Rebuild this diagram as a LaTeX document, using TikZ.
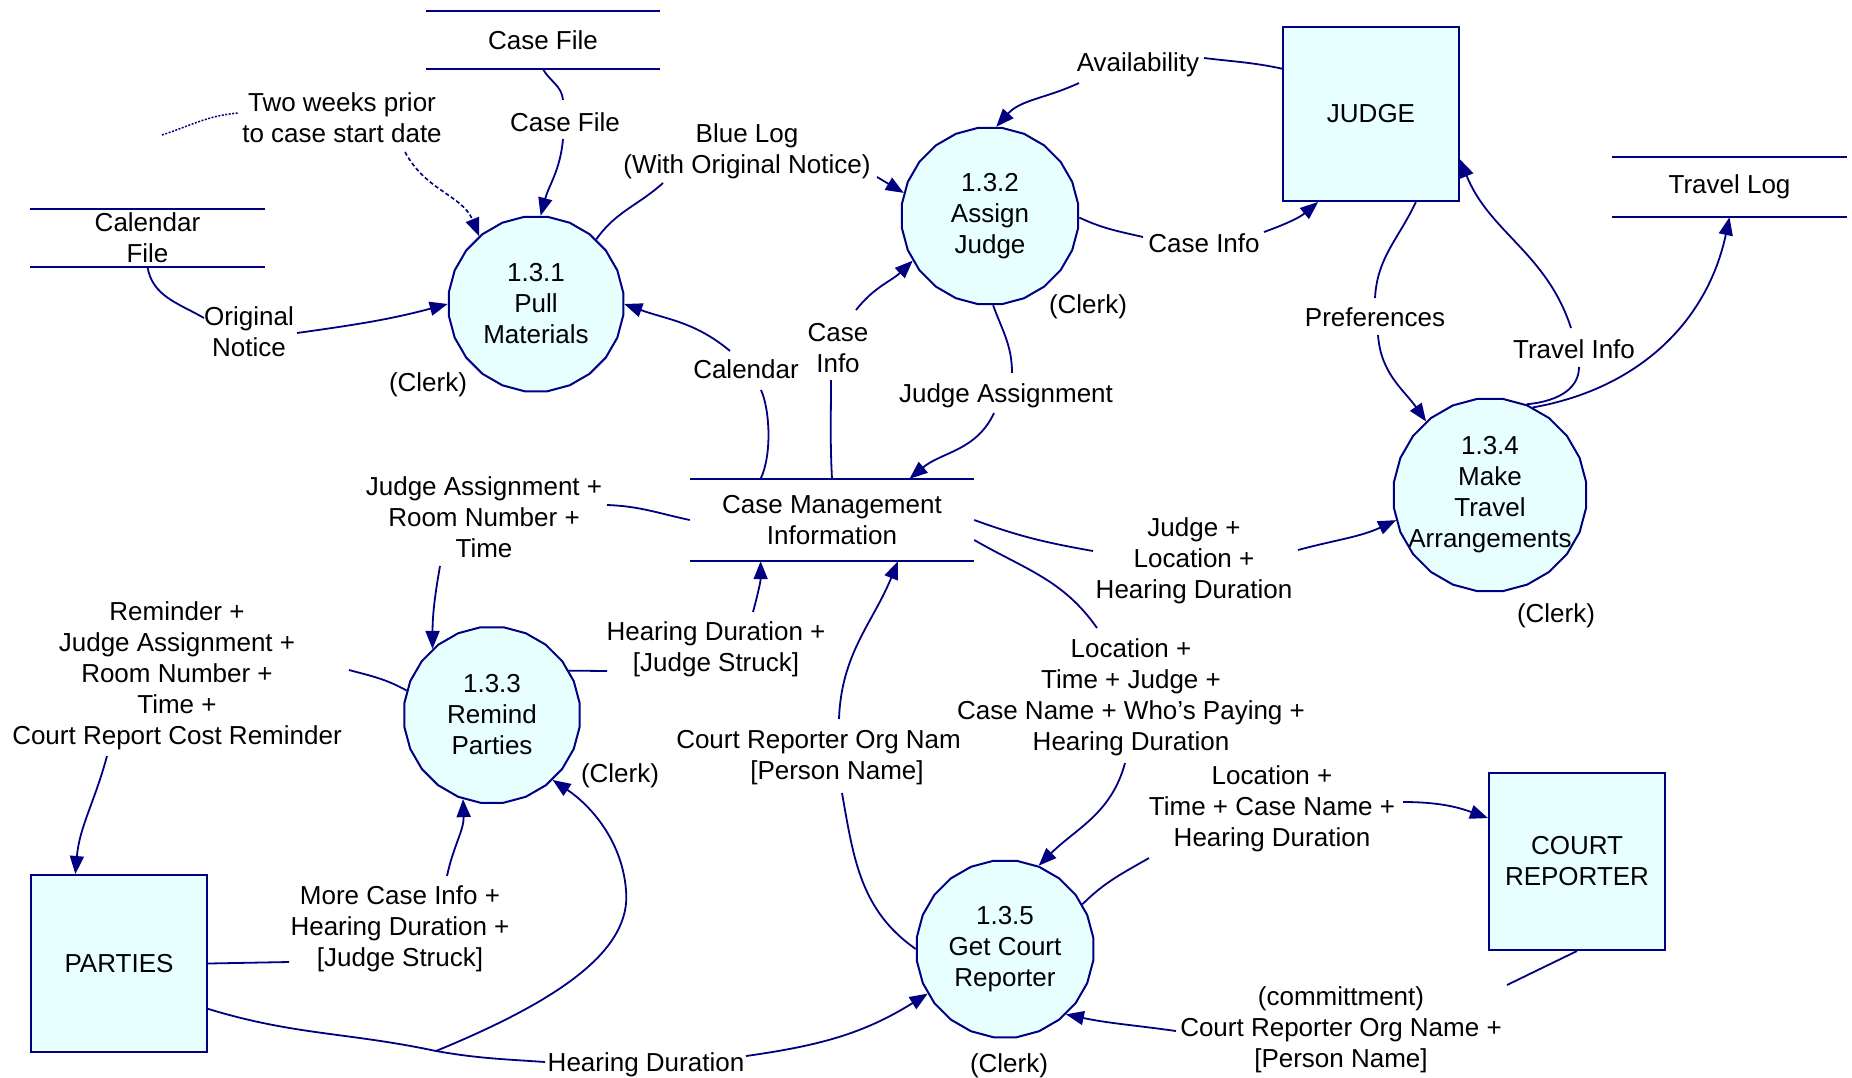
\documentclass[tikz,border=0pt]{standalone}
\usepackage{fontspec}
\setmainfont{Liberation Sans}
\usetikzlibrary{arrows.meta,shapes.geometric}
\definecolor{ln}{RGB}{0,0,128}
\definecolor{fl}{RGB}{232,255,255}
\begin{document}
\begin{tikzpicture}[x=1pt,y=-1pt,
  txt/.style={font=\fontsize{26}{31}\selectfont, align=center, inner sep=0pt, text=black},
  proc/.style={regular polygon, regular polygon sides=24, draw=ln, fill=fl, line width=2pt, inner sep=0pt, minimum size=#1},
  ext/.style={rectangle, draw=ln, fill=fl, line width=2pt, minimum width=176, minimum height=176, inner sep=0pt, txt},
  store/.style={rectangle, inner sep=0pt, txt},
  sline/.style={draw=ln, line width=2pt},
  flow/.style={draw=ln, line width=1.8pt},
  arr/.style={flow, -{Triangle[length=18pt,width=14pt]}},
]
\useasboundingbox (0,0) rectangle (1852,1077);

% ---------- stores ----------
\node[store, minimum width=234, minimum height=58] (casefile) at (543,40) {Case File};
\node[store, minimum width=235, minimum height=58] (calfile) at (147.5,238) {Calendar\\File};
\node[store, minimum width=235, minimum height=60] (travellog) at (1729.5,187) {Travel Log};
\node[store, minimum width=284, minimum height=82] (cmi) at (832,520) {Case Management\\Information};
\foreach \s in {casefile,calfile,travellog,cmi}{
  \draw[sline] (\s.north west) -- (\s.north east) (\s.south west) -- (\s.south east);
}

% ---------- external entities ----------
\node[ext, minimum height=174] (judge) at (1371,114) {JUDGE};
\node[ext, minimum height=177] (parties) at (119,963.5) {PARTIES};
\node[ext, minimum height=177] (cr) at (1577,861.5) {COURT\\REPORTER};

% ---------- processes ----------
\node[proc=176, label={[txt]center:{1.3.1\\Pull\\Materials}}] (c131) at (536,304) {};
\node[proc=178, label={[txt]center:{1.3.2\\Assign\\Judge}}] (c132) at (990,216) {};
\node[proc=177, label={[txt]center:{1.3.3\\Remind\\Parties}}] (c133) at (492,715) {};
\node[proc=194, label={[txt]center:{1.3.4\\Make\\Travel\\Arrangements}}] (c134) at (1490,495) {};
\node[proc=178, label={[txt]center:{1.3.5\\Get Court\\Reporter}}] (c135) at (1005,949) {};

% ---------- (Clerk) ----------
\node[txt] (k131) at (428,385) {(Clerk)};
\node[txt] (k132) at (1088,307) {(Clerk)};
\node[txt] (k133) at (620,776) {(Clerk)};
\node[txt] (k134) at (1556,616) {(Clerk)};
\node[txt] (k135) at (1009,1066) {(Clerk)};

% ---------- flow labels ----------
\node[txt] (lcf) at (565,122) {Case File};
\node[txt] (lon) at (249,332) {Original\\Notice};
\node[txt] (lbl) at (747,151) {Blue Log\\(With Original Notice)};
\node[txt] (lcal) at (746,369) {Calendar};
\node[txt] (lci1) at (838,348) {Case\\Info};
\node[txt] (lav) at (1138,65) {Availability};
\node[txt] (lci2) at (1204,243) {Case Info};
\node[txt] (lpref) at (1375,317) {Preferences};
\node[txt] (lti) at (1574,349) {Travel Info};
\node[txt] (lja) at (1006,396) {Judge Assignment};
\node[txt] (ljart) at (484,517) {Judge Assignment +\\Room Number +\\Time};
\node[txt] (lrem) at (177,676) {Reminder +\\Judge Assignment +\\Room Number +\\Time +\\Court Report Cost Reminder};
\node[txt] (lhdj) at (716,649) {Hearing Duration +\\{}[Judge Struck]};
\node[txt] (lmci) at (400,929) {More Case Info +\\Hearing Duration +\\{}[Judge Struck]};
\node[txt] (lhd) at (646,1065) {Hearing Duration};
\node[txt] (lcro) at (837,758) {Court Reporter Org Nam\phantom{e +}\\{}[Person Name]};
\node[txt] (ljlh) at (1194,561) {Judge +\\Location +\\Hearing Duration};
\node[txt] (lltj) at (1131,697) {Location +\\Time + Judge +\\Case Name + Who's Paying +\\Hearing Duration};
\node[txt] (lltc) at (1272,809) {Location +\\Time + Case Name +\\Hearing Duration};
\node[txt] (lcom) at (1341,1030) {(committment)\\Court Reporter Org Name +\\{}[Person Name]};
\node[txt] (ltw) at (342,118) {Two weeks prior\\to case start date};

% ---------- gap coordinates ----------
\coordinate (k1a) at (563,100);  \coordinate (k1b) at (563,139);
\coordinate (k2a) at (204,318);  \coordinate (k2b) at (297,333);
\coordinate (k3a) at (663,183);  \coordinate (k3b) at (877,177);
\coordinate (k4a) at (761,390);  \coordinate (k4b) at (730,351);
\coordinate (k5a) at (831,380);  \coordinate (k5b) at (856,310);
\coordinate (k6a) at (1204,58);  \coordinate (k6b) at (1079,83);
\coordinate (k7a) at (1143,237); \coordinate (k7b) at (1264,232);
\coordinate (k8a) at (1375,298); \coordinate (k8b) at (1378,335);
\coordinate (k9a) at (1579,367); \coordinate (k9b) at (1571,328);
\coordinate (k11a) at (1012,373); \coordinate (k11b) at (994,413);
\coordinate (k12a) at (607,505); \coordinate (k12b) at (440,566);
\coordinate (k13a) at (349,670); \coordinate (k13b) at (107,756);
\coordinate (k14a) at (607,671); \coordinate (k14b) at (753,612);
\coordinate (k15a) at (289,962); \coordinate (k15b) at (447,876);
\coordinate (kj) at (436,1051);  \coordinate (k16a) at (545,1062); \coordinate (k16b) at (746,1056);
\coordinate (k17a) at (842,793); \coordinate (k17b) at (839,719);
\coordinate (k18a) at (1093,551); \coordinate (k18b) at (1298,550);
\coordinate (k19a) at (1097,628); \coordinate (k19b) at (1125,763);
\coordinate (k20a) at (1149,858); \coordinate (k20b) at (1403,802);
\coordinate (k21a) at (1507,985); \coordinate (k21b) at (1176,1031);
\coordinate (kd1) at (162,135);  \coordinate (kd2) at (238,113); \coordinate (kd3) at (405,152);

% ---------- connectors ----------
% Case File -> 1.3.1
\draw[flow] (casefile.south) to[out=-60,in=95] (k1a);
\draw[arr] (k1b) to[out=-95,in=75] (c131.87);
% Calendar File -> 1.3.1
\draw[flow] (calfile.south) to[out=-80,in=150] (k2a);
\draw[arr] (k2b) to[out=8,in=195] (c131.180);
% 1.3.1 -> 1.3.2 (Blue Log)
\draw[flow] (c131.47) to[out=55,in=-138] (k3a);
\draw[arr] (k3b) -- (c132.165);
% CMI -> 1.3.1 (Calendar)
\draw[flow] (cmi.150) .. controls (772,455) and (770,410) .. (k4a);
\draw[arr] (k4b) to[out=140,in=-20] (c131.0);
% CMI -> 1.3.2 (Case Info)
\draw[flow] (cmi.north) to[out=93,in=-90] (k5a);
\draw[arr] (k5b) to[out=52,in=-136] (c132.210);
% JUDGE -> 1.3.2 (Availability)
\draw[flow] (judge.153) to[out=168,in=-7] (k6a);
\draw[arr] (k6b) to[out=-155,in=48] (c132.86);
% 1.3.2 -> JUDGE (Case Info)
\draw[flow] (c132.-1) to[out=-25,in=167] (k7a);
\draw[arr] (k7b) to[out=20,in=-140] (judge.239);
% JUDGE -> 1.3.4 (Preferences)
\draw[flow] (judge.-63) to[out=-115,in=87] (k8a);
\draw[arr] (k8b) to[out=-86,in=125] (c134.131);
% 1.3.4 -> JUDGE (Travel Info)
\draw[flow] (c134.68) to[out=5,in=-90] (k9a);
\draw[arr] (k9b) to[out=108,in=-68] (judge.-27);
% 1.3.4 -> Travel Log
\draw[arr] (c134.64) to[out=10,in=-102] (travellog.south);
% 1.3.2 -> CMI (Judge Assignment)
\draw[flow] (c132.-88) to[out=-70,in=90] (k11a);
\draw[arr] (k11b) to[out=-115,in=40] (cmi.28);
% CMI -> 1.3.3
\draw[flow] (cmi.west) to[out=168,in=-2] (k12a);
\draw[arr] (k12b) to[out=-100,in=90] (c133.132);
% 1.3.3 -> PARTIES
\draw[flow] (c133.164) to[out=151,in=-15] (k13a);
\draw[arr] (k13b) to[out=-105,in=85] (parties.116);
% 1.3.3 -> CMI
\draw[flow] (c133.30) -- (k14a);
\draw[arr] (k14b) to[out=75,in=-90] (cmi.210);
% PARTIES -> 1.3.3
\draw[flow] (parties.east) -- (k15a);
\draw[arr] (k15b) to[out=78,in=-88] (c133.251);
% PARTIES -> 1.3.5 / 1.3.3 (Hearing Duration)
\draw[flow] (parties.-27) to[out=-17,in=168] (kj) to[out=-10,in=176] (k16a);
\draw[arr] (k16b) to[out=8,in=-148] (c135.210);
\draw[arr] (kj) .. controls (560,1000) and (632,950) .. (626,890) .. controls (622,840) and (590,805) .. (c133.-47);
% 1.3.5 -> CMI (Court Reporter Org Name)
\draw[flow] (c135.180) to[out=145,in=-80] (k17a);
\draw[arr] (k17b) to[out=88,in=-112] (cmi.-32);
% CMI -> 1.3.4
\draw[flow] (cmi.east) to[out=-20,in=170] (k18a);
\draw[arr] (k18b) to[out=15,in=-155] (c134.195);
% CMI -> 1.3.5
\draw[flow] (cmi.-8.4) to[out=-30,in=125] (k19a);
\draw[arr] (k19b) to[out=-105,in=45] (c135.68);
% 1.3.5 -> COURT REPORTER
\draw[flow] (c135.30) to[out=45,in=-150] (k20a);
\draw[arr] (k20b) to[out=0,in=160] (cr.154);
% COURT REPORTER -> 1.3.5
\draw[flow] (cr.south) -- (k21a);
\draw[arr] (k21b) to[out=172,in=-12] (c135.-47);
% annotation
\draw[draw=ln, line width=1.5pt, dash pattern=on 2pt off 1.5pt] (kd1) to[out=18,in=-175] (kd2);
\draw[draw=ln, line width=1.6pt, dash pattern=on 4pt off 2.5pt, -{Triangle[length=18pt,width=14pt]}] (kd3) to[out=-62,in=112] (c131.130);
\end{tikzpicture}
\end{document}
